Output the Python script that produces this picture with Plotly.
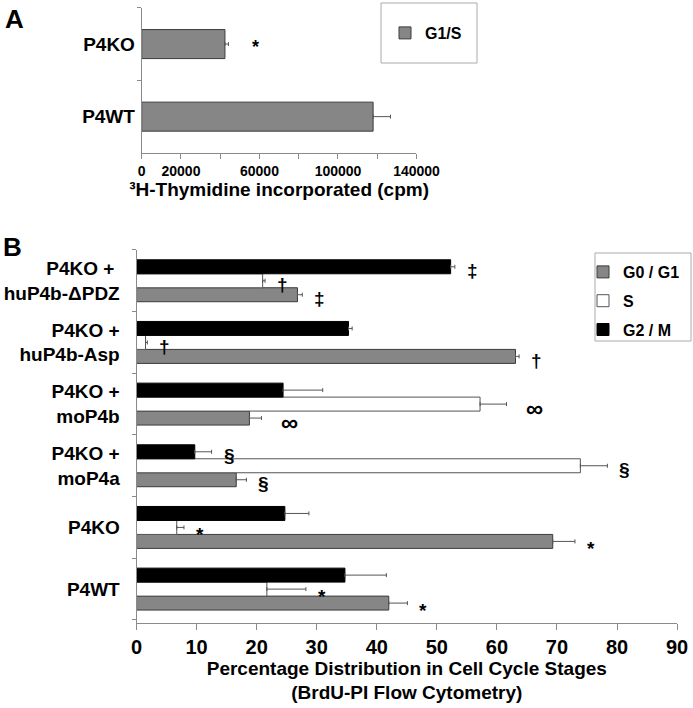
import plotly.graph_objects as go

# ---- panel A data
a_groups = ["P4WT", "P4KO"]
a_cpm = [117900, 42400]
a_err = [8850, 1800]
a_marks = ["", "*"]
a_ticks = [0, 20000, 40000, 60000, 80000, 100000, 120000, 140000]
a_ticktext = ["0", "20000", "", "60000", "", "100000", "", "140000"]

# ---- panel B data (bottom to top)
b_groups = ["P4WT", "P4KO", "P4KO +<br>moP4a", "P4KO +<br>moP4b",
            "P4KO +<br>huP4b-Asp", "P4KO + <br>huP4b-ΔPDZ"]
g01 = [42.0, 69.3, 16.6, 18.8, 63.1, 26.8]
g01_err = [3.1, 3.7, 1.7, 2.0, 0.6, 0.8]
s_ph = [21.7, 6.7, 73.9, 57.2, 1.5, 21.0]
s_err = [6.5, 1.2, 4.5, 4.4, 0.3, 0.4]
g2m = [34.7, 24.7, 9.7, 24.4, 35.3, 52.3]
g2m_err = [6.9, 4.0, 2.8, 6.6, 0.6, 0.7]
g01_marks = ["*", "*", "§", "∞", "†", "‡"]
s_marks = ["*", "*", "§", "∞", "†", "†"]
g2m_marks = ["", "", "§", "", "", "‡"]
b_ticks = list(range(0, 100, 10))

FONT = "Liberation Sans, Arial, sans-serif"
W, H = 693, 708
AXC = "#8a8a8a"

fig = go.Figure()

fig.add_trace(go.Bar(
    y=a_groups, x=a_cpm, orientation="h", name="G1/S", width=0.4, showlegend=True,
    marker=dict(color="#868686", line=dict(color="#3c3c3c", width=1)),
    error_x=dict(type="data", symmetric=False, array=a_err, arrayminus=[0] * 2,
                 color="#555555", thickness=1, width=2),
    xaxis="x", yaxis="y", legend="legend"))

series = [("G0 / G1", g01, g01_err, "#868686", "#3c3c3c"),
          ("S", s_ph, s_err, "#ffffff", "#555555"),
          ("G2 / M", g2m, g2m_err, "#000000", "#000000")]
for name, vals, errs, col, lcol in series:
    fig.add_trace(go.Bar(
        y=b_groups, x=vals, orientation="h", name=name, showlegend=True, legendgroup=name,
        marker=dict(color=col, line=dict(color=lcol, width=1)),
        error_x=dict(type="data", symmetric=False, array=errs, arrayminus=[0] * len(errs),
                     color="#555555", thickness=1, width=2),
        xaxis="x2", yaxis="y2", legend="legend2"))

ann = []
# panel A significance mark
for g, v, e, m in zip(a_groups, a_cpm, a_err, a_marks):
    if m:
        ann.append(dict(x=v + e, y=g, xref="x", yref="y", text=m, showarrow=False,
                        xanchor="left", xshift=22, yshift=-3,
                        font=dict(size=18, family=FONT, weight="bold", color="black")))

# panel B significance marks
bargap = 0.32
b_dom = (0.1205, 0.647)
cat_px = (b_dom[1] - b_dom[0]) * H / len(b_groups)
bar_px = (1 - bargap) / 3 * cat_px
for k, (vals, errs, marks) in enumerate([(g01, g01_err, g01_marks),
                                         (s_ph, s_err, s_marks),
                                         (g2m, g2m_err, g2m_marks)]):
    for g, v, e, m in zip(b_groups, vals, errs, marks):
        if not m:
            continue
        sz = 19
        dy = -4
        if m == "*":
            dy = -7
        if m == "∞":
            sz = 24
        ann.append(dict(x=v + e, y=g, xref="x2", yref="y2", text=m, showarrow=False,
                        xanchor="left", xshift=10 if m != "∞" else 18,
                        yshift=(k - 1) * bar_px + dy,
                        font=dict(size=sz, family=FONT, weight="bold", color="black")))

ann.append(dict(x=0.004, y=0.997, xref="paper", yref="paper", text="A", showarrow=False,
                xanchor="left", yanchor="top",
                font=dict(size=26, family=FONT, weight="bold", color="black")))
ann.append(dict(x=0.002, y=0.675, xref="paper", yref="paper", text="B", showarrow=False,
                xanchor="left", yanchor="top",
                font=dict(size=26, family=FONT, weight="bold", color="black")))

axis_common = dict(showgrid=False, zeroline=False, showline=True, linecolor=AXC,
                   linewidth=1, ticks="outside", tickcolor=AXC, ticklen=5,
                   automargin=False,
                   tickfont=dict(family=FONT, weight="bold", color="black"))

# legend frames, drawn as plain rectangles
shapes = [
    dict(type="rect", xref="paper", yref="paper", x0=381 / W, x1=477 / W,
         y0=1 - 63 / H, y1=1 - 3 / H, line=dict(color="#aaaaaa", width=1),
         fillcolor="white", layer="below"),
    dict(type="rect", xref="paper", yref="paper", x0=595 / W, x1=691 / W,
         y0=1 - 341 / H, y1=1 - 253 / H, line=dict(color="#aaaaaa", width=1),
         fillcolor="white", layer="below"),
]

fig.update_layout(
    width=W, height=H,
    margin=dict(l=0, r=0, t=0, b=0, autoexpand=False),
    paper_bgcolor="white", plot_bgcolor="white",
    font=dict(family=FONT, color="black"),
    showlegend=True,
    barmode="group", bargap=bargap,
    shapes=shapes,
    xaxis=dict(axis_common, domain=[0.2045, 0.601], anchor="y", range=[0, 140000],
               tickvals=a_ticks, ticktext=a_ticktext,
               tickfont=dict(family=FONT, weight="bold", size=14, color="black"),
               title=dict(text="³H-Thymidine incorporated (cpm)", standoff=3,
                          font=dict(family=FONT, weight="bold", size=19, color="black"))),
    yaxis=dict(axis_common, domain=[0.784, 0.989], anchor="x", tickson="boundaries",
               tickfont=dict(family=FONT, weight="bold", size=19, color="black"),
               ticklen=4, ticklabelstandoff=2),
    xaxis2=dict(axis_common, domain=[0.197, 0.977], anchor="y2", range=[0, 90],
                tickvals=b_ticks, ticklen=6,
                tickfont=dict(family=FONT, weight="bold", size=20, color="black"),
                title=dict(text="Percentage Distribution in Cell Cycle Stages<br>(BrdU-PI Flow Cytometry)",
                           standoff=3,
                           font=dict(family=FONT, weight="bold", size=19, color="black"))),
    yaxis2=dict(axis_common, domain=list(b_dom), anchor="x2", tickson="boundaries",
                tickfont=dict(family=FONT, weight="bold", size=19, color="black"),
                ticklen=4, ticklabelstandoff=12),
    legend=dict(x=385 / W, y=1 - 33 / H, xanchor="left", yanchor="middle",
                bgcolor="rgba(0,0,0,0)", borderwidth=0,
                font=dict(family=FONT, weight="bold", size=16, color="black")),
    legend2=dict(x=583 / W, y=1 - 255 / H, xanchor="left", yanchor="top", traceorder="grouped",
                 tracegroupgap=5, bgcolor="rgba(0,0,0,0)", borderwidth=0,
                 font=dict(family=FONT, weight="bold", size=16, color="black")),
    annotations=ann,
)

fig.write_html("out.html", config={"displayModeBar": False},
               post_script="document.body.style.margin='0';")
